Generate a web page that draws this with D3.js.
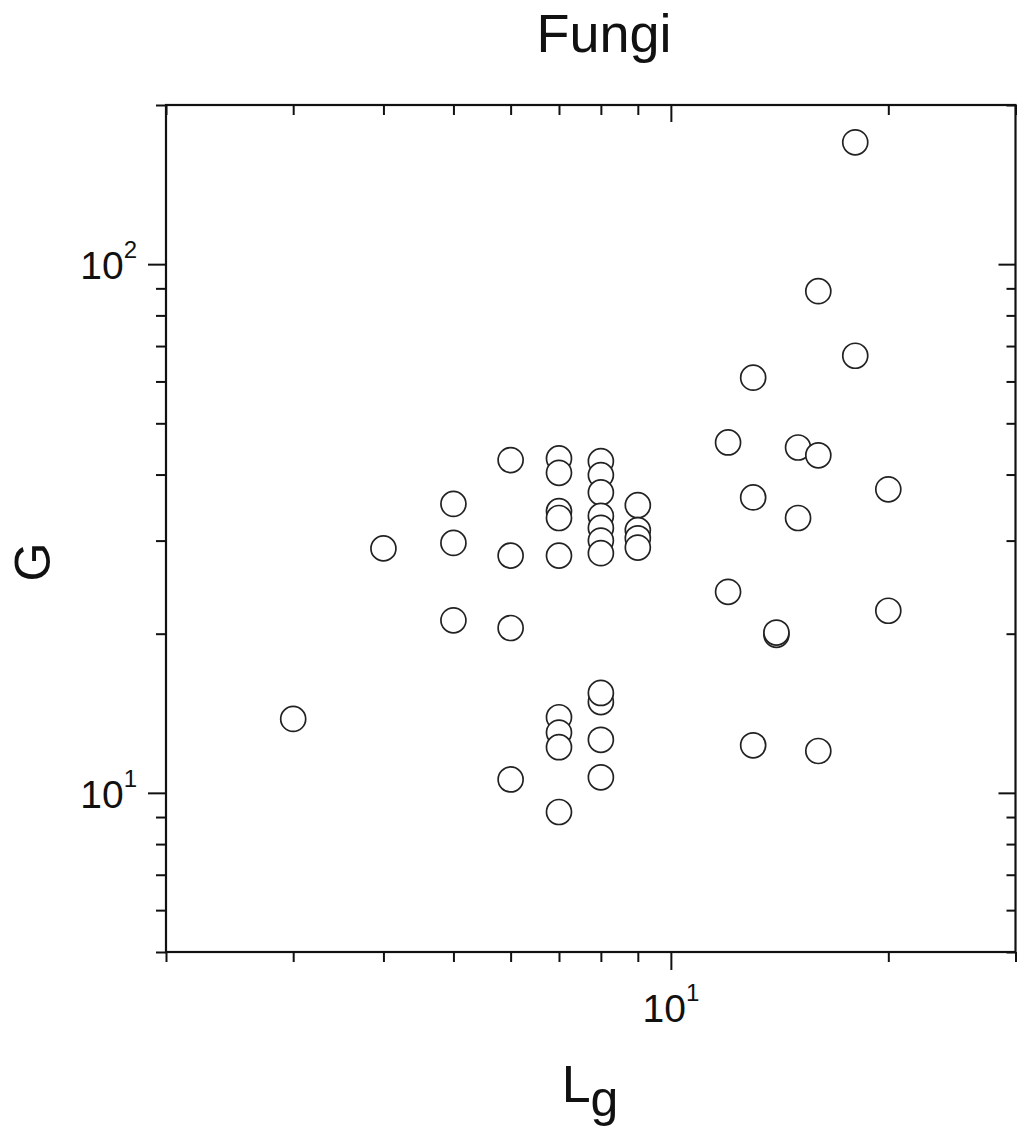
<!DOCTYPE html>
<html>
<head>
<meta charset="utf-8">
<script src="https://cdn.jsdelivr.net/npm/d3@7.9.0/dist/d3.min.js"></script>
<style>
  body { margin: 0; background: #fff; }
  svg { display: block; font-family: "Liberation Sans", Arial, sans-serif; }
</style>
</head>
<body>
<svg width="1024" height="1137"></svg>
<script>
// Lg (x) and G (y) for each open circle
const lgValues = [
  3,
  4,
  5, 5, 5,
  6, 6, 6, 6,
  7, 7, 7, 7, 7, 7, 7, 7, 7,
  8, 8, 8, 8, 8, 8, 8, 8, 8, 8, 8,
  9, 9, 9, 9,
  12, 12,
  13, 13, 13,
  14, 14,
  15, 15,
  16, 16, 16,
  18, 18,
  20, 20
];
const gValues = [
  13.8,
  29.0,
  35.2, 29.7, 21.2,
  42.6, 28.1, 20.5, 10.6,
  42.9, 40.3, 34.1, 33.1, 28.1, 13.9, 13.0, 12.2, 9.2,
  42.4, 39.9, 37.0, 33.4, 31.7, 30.0, 28.4, 14.85, 15.45, 12.6, 10.7,
  35.0, 31.4, 30.3, 29.1,
  46.0, 24.0,
  61.0, 36.2, 12.3,
  19.9, 20.1,
  45.0, 33.1,
  88.9, 43.5, 12.0,
  170, 67.1,
  37.5, 22.1
];

// axis ranges and ticks
const xDomain = [2, 30];
const yDomain = [5, 200];
const xTicks = [2, 3, 4, 5, 6, 7, 8, 9, 10, 20, 30];
const yTicks = [5, 6, 7, 8, 9, 10, 20, 30, 40, 50, 60, 70, 80, 90, 100, 200];
const xMajor = [10];
const yMajor = [10, 100];

const svg = d3.select('svg');
const plotL = 166, plotR = 1015.5, plotT = 105, plotB = 952;

const x = d3.scaleLog().domain(xDomain).range([plotL, plotR]);
const y = d3.scaleLog().domain(yDomain).range([plotB, plotT]);

// helper: draw an axis with short minor / long major ticks
function drawAxis(axis, tr, majors, minorLen, majorLen, attr) {
  const g = svg.append('g').attr('transform', tr).call(axis);
  g.select('.domain').remove();
  g.selectAll('.tick text').remove();
  g.selectAll('.tick line')
    .attr('stroke', '#111')
    .attr('stroke-width', 2)
    .attr(attr, d => majors.includes(d) ? majorLen : minorLen);
}

drawAxis(d3.axisBottom(x).tickValues(xTicks), `translate(0,${plotB})`, xMajor, 10, 18, 'y2');
drawAxis(d3.axisTop(x).tickValues(xTicks), `translate(0,${plotT})`, xMajor, 10, 17, 'y2');
drawAxis(d3.axisLeft(y).tickValues(yTicks), `translate(${plotL},0)`, yMajor, -10, -18, 'x2');
drawAxis(d3.axisRight(y).tickValues(yTicks), `translate(${plotR},0)`, yMajor, -9, -17, 'x2');

// frame
svg.append('rect')
  .attr('x', plotL).attr('y', plotT)
  .attr('width', plotR - plotL).attr('height', plotB - plotT)
  .attr('fill', 'none').attr('stroke', '#111').attr('stroke-width', 2.2);

// tick labels as 10^n
xMajor.forEach(v => {
  const t = svg.append('text')
    .attr('x', x(v)).attr('y', plotB + 70)
    .attr('text-anchor', 'middle').attr('fill', '#111');
  t.append('tspan').attr('font-size', 39).text('10');
  t.append('tspan').attr('font-size', 24).attr('dy', -21).text(Math.round(Math.log10(v)));
});
yMajor.forEach(v => {
  const t = svg.append('text')
    .attr('x', 137).attr('y', y(v) + 15)
    .attr('text-anchor', 'end').attr('fill', '#111');
  t.append('tspan').attr('font-size', 39).text('10');
  t.append('tspan').attr('font-size', 24).attr('dy', -21).text(Math.round(Math.log10(v)));
});

// points
svg.append('g')
  .selectAll('circle')
  .data(lgValues.map((v, i) => [v, gValues[i]]))
  .join('circle')
  .attr('cx', d => x(d[0]))
  .attr('cy', d => y(d[1]))
  .attr('r', 12.5)
  .attr('fill', '#fff')
  .attr('stroke', '#222')
  .attr('stroke-width', 1.7);

// title and axis labels
svg.append('text')
  .attr('x', 604).attr('y', 52)
  .attr('text-anchor', 'middle').attr('font-size', 54).attr('fill', '#111')
  .text('Fungi');

svg.append('text')
  .attr('transform', 'translate(50,562) rotate(-90)')
  .attr('text-anchor', 'middle').attr('font-size', 50).attr('fill', '#111')
  .text('G');

const lab = svg.append('text')
  .attr('x', 590).attr('y', 1102)
  .attr('text-anchor', 'middle').attr('fill', '#111');
lab.append('tspan').attr('font-size', 52).text('L');
lab.append('tspan').attr('font-size', 50).attr('dy', 14).text('g');
</script>
</body>
</html>
